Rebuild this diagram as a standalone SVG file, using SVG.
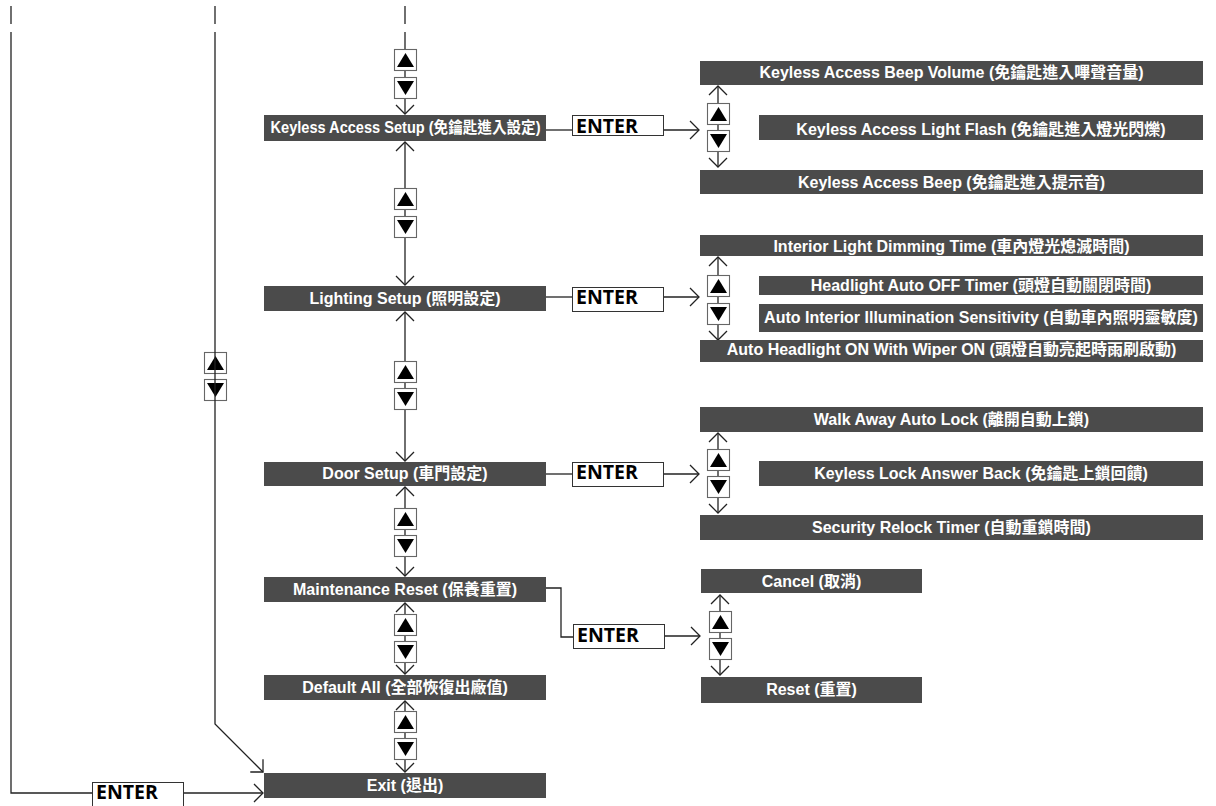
<svg xmlns="http://www.w3.org/2000/svg" xmlns:xlink="http://www.w3.org/1999/xlink" width="1216" height="806" viewBox="0 0 1216 806">
<style>
.box{fill:#4b4b4b}
.lbl{fill:#fff;font-family:"Liberation Sans","Noto Sans CJK TC",sans-serif;font-weight:bold;font-size:16px;text-anchor:middle}
.ent{fill:#fff;stroke:#333;stroke-width:1}
.entt{fill:#000;font-family:"Open Sans","Noto Sans",sans-serif;font-weight:bold;font-size:19.5px}
.ln{fill:none;stroke:#222;stroke-width:1.3}
.arr{marker-end:url(#ah)}
.arr2{marker-start:url(#ah);marker-end:url(#ah)}
.bb{fill:#fff;stroke:#666;stroke-width:1.1}
.tri{fill:#000}
</style>
<defs>
<marker id="ah" markerUnits="userSpaceOnUse" viewBox="-11 -11 13 22" markerWidth="13" markerHeight="22" refX="0" refY="0" orient="auto-start-reverse">
<path d="M-9,-9 L0,0 L-9,9" fill="none" stroke="#222" stroke-width="1.3"/>
</marker>
<g id="btnUp"><rect class="bb" x="0.5" y="0.5" width="22" height="21"/><polygon class="tri" points="3,18 11.5,4 20,18"/></g>
<g id="btnDn"><rect class="bb" x="0.5" y="0.5" width="22" height="21"/><polygon class="tri" points="3,4 20,4 11.5,18"/></g>
</defs>

<g id="connectors">
<use href="#btnUp" x="204" y="352"/>
<use href="#btnDn" x="204" y="379"/>
<line class="ln" x1="11" y1="6" x2="11" y2="24"/>
<polyline class="ln" points="11,32 11,793 92,793"/>
<line class="ln arr" x1="184" y1="793" x2="263" y2="793"/>
<line class="ln" x1="215" y1="6" x2="215" y2="24"/>
<polyline class="ln arr" points="215,32 215,724 263,772"/>
<line class="ln" x1="405" y1="6" x2="405" y2="24"/>
<line class="ln arr" x1="405" y1="32" x2="405" y2="114"/>
<line class="ln arr2" x1="405" y1="142" x2="405" y2="285"/>
<line class="ln arr2" x1="405" y1="312" x2="405" y2="461"/>
<line class="ln arr2" x1="405" y1="487" x2="405" y2="576"/>
<line class="ln arr2" x1="405" y1="603" x2="405" y2="674"/>
<line class="ln arr2" x1="405" y1="701" x2="405" y2="772"/>
<use href="#btnUp" x="394" y="49"/>
<use href="#btnDn" x="394" y="77"/>
<use href="#btnUp" x="394" y="188"/>
<use href="#btnDn" x="394" y="216"/>
<use href="#btnUp" x="394" y="361"/>
<use href="#btnDn" x="394" y="388"/>
<use href="#btnUp" x="394" y="508"/>
<use href="#btnDn" x="394" y="535"/>
<use href="#btnUp" x="394" y="614"/>
<use href="#btnDn" x="394" y="641"/>
<use href="#btnUp" x="394" y="711"/>
<use href="#btnDn" x="394" y="738"/>
<line class="ln" x1="546" y1="130" x2="572" y2="130"/>
<line class="ln" x1="546" y1="297" x2="572" y2="297"/>
<line class="ln" x1="546" y1="474" x2="572" y2="474"/>
<polyline class="ln" points="546,588 561,588 561,637 573,637"/>
<line class="ln arr" x1="663" y1="130" x2="699" y2="130"/>
<line class="ln arr" x1="663" y1="297" x2="699" y2="297"/>
<line class="ln arr" x1="663" y1="474" x2="699" y2="474"/>
<line class="ln arr" x1="665" y1="636" x2="700" y2="636"/>
<line class="ln arr2" x1="718" y1="86" x2="718" y2="167"/>
<line class="ln arr2" x1="718" y1="257" x2="718" y2="340"/>
<line class="ln arr2" x1="718" y1="433" x2="718" y2="513"/>
<line class="ln arr2" x1="720" y1="595" x2="720" y2="675"/>
<use href="#btnUp" x="707" y="103"/>
<use href="#btnDn" x="707" y="130"/>
<use href="#btnUp" x="707" y="275"/>
<use href="#btnDn" x="707" y="303"/>
<use href="#btnUp" x="707" y="449"/>
<use href="#btnDn" x="707" y="476"/>
<use href="#btnUp" x="709" y="611"/>
<use href="#btnDn" x="709" y="638"/>
</g>

<g id="enter-keyless"><rect class="ent" x="572.5" y="115.5" width="91" height="20"/><text class="entt" x="576" y="133">ENTER</text></g>
<g id="enter-lighting"><rect class="ent" x="572.5" y="287.5" width="91" height="24"/><text class="entt" x="576" y="304">ENTER</text></g>
<g id="enter-door"><rect class="ent" x="572.5" y="462.5" width="91" height="24"/><text class="entt" x="576" y="479">ENTER</text></g>
<g id="enter-maint"><rect class="ent" x="573.5" y="624.5" width="91" height="24"/><text class="entt" x="577" y="642">ENTER</text></g>
<g id="enter-exit"><rect class="ent" x="92.5" y="782.5" width="91" height="40"/><text class="entt" x="96" y="799">ENTER</text></g>

<g id="keyless-setup"><rect class="box" x="264" y="115" width="282" height="26"/><text class="lbl" x="405.5" y="133" textLength="270" lengthAdjust="spacingAndGlyphs">Keyless Access Setup (免鑰匙進入設定)</text></g>
<g id="lighting-setup"><rect class="box" x="264" y="286" width="282" height="25"/><text class="lbl" x="405" y="304">Lighting Setup (照明設定)</text></g>
<g id="door-setup"><rect class="box" x="264" y="462" width="282" height="24"/><text class="lbl" x="405" y="479">Door Setup (車門設定)</text></g>
<g id="maintenance-reset"><rect class="box" x="264" y="577" width="282" height="25"/><text class="lbl" x="405" y="595">Maintenance Reset (保養重置)</text></g>
<g id="default-all"><rect class="box" x="264" y="675" width="282" height="25"/><text class="lbl" x="405" y="693">Default All (全部恢復出廠值)</text></g>
<g id="exit"><rect class="box" x="264" y="773" width="282" height="25"/><text class="lbl" x="405" y="791">Exit (退出)</text></g>

<g id="beep-volume"><rect class="box" x="700" y="61" width="503" height="24"/><text class="lbl" x="951.5" y="78">Keyless Access Beep Volume (免鑰匙進入嗶聲音量)</text></g>
<g id="light-flash"><rect class="box" x="759" y="115" width="444" height="25"/><text class="lbl" x="981" y="135">Keyless Access Light Flash (免鑰匙進入燈光閃爍)</text></g>
<g id="access-beep"><rect class="box" x="700" y="170" width="503" height="24"/><text class="lbl" x="951.5" y="187.5">Keyless Access Beep (免鑰匙進入提示音)</text></g>

<g id="dimming-time"><rect class="box" x="700" y="235" width="503" height="21"/><text class="lbl" x="951.5" y="251.5">Interior Light Dimming Time (車內燈光熄滅時間)</text></g>
<g id="headlight-off"><rect class="box" x="759" y="276" width="444" height="19"/><text class="lbl" x="981" y="291">Headlight Auto OFF Timer (頭燈自動關閉時間)</text></g>
<g id="illum-sens"><rect class="box" x="759" y="304" width="444" height="28"/><text class="lbl" x="981" y="323">Auto Interior Illumination Sensitivity (自動車內照明靈敏度)</text></g>
<g id="headlight-wiper"><rect class="box" x="700" y="340" width="503" height="22"/><text class="lbl" x="951.5" y="355">Auto Headlight ON With Wiper ON (頭燈自動亮起時雨刷啟動)</text></g>

<g id="walk-away"><rect class="box" x="700" y="407" width="503" height="25"/><text class="lbl" x="951.5" y="425">Walk Away Auto Lock (離開自動上鎖)</text></g>
<g id="lock-answer"><rect class="box" x="759" y="461" width="444" height="25"/><text class="lbl" x="981" y="479">Keyless Lock Answer Back (免鑰匙上鎖回饋)</text></g>
<g id="relock-timer"><rect class="box" x="700" y="515" width="503" height="25"/><text class="lbl" x="951.5" y="532.5">Security Relock Timer (自動重鎖時間)</text></g>

<g id="cancel"><rect class="box" x="701" y="569" width="221" height="24"/><text class="lbl" x="811.5" y="586.5">Cancel (取消)</text></g>
<g id="reset"><rect class="box" x="701" y="677" width="221" height="26"/><text class="lbl" x="811.5" y="695">Reset (重置)</text></g>
</svg>
